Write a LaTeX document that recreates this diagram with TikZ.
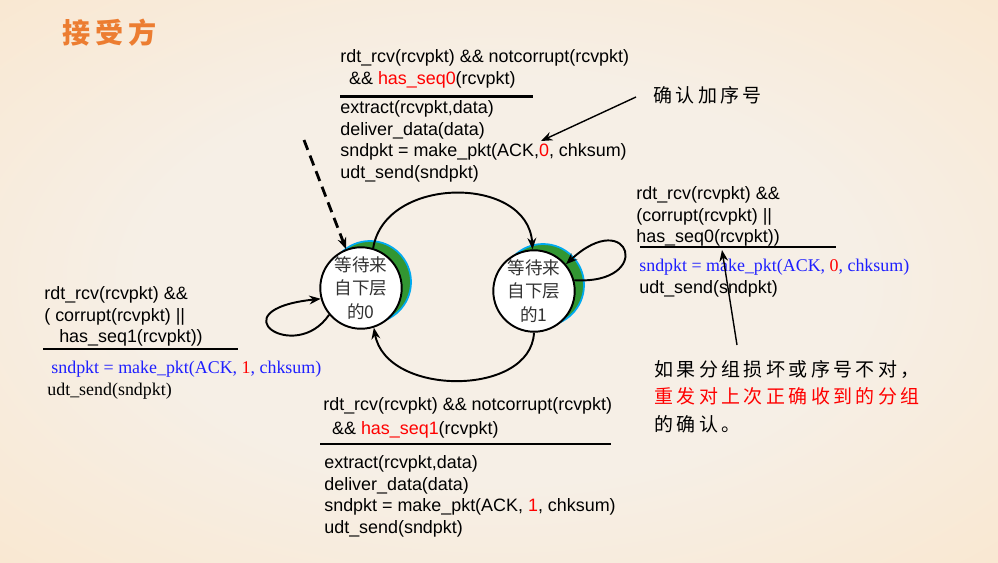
\documentclass[tikz,border=0pt]{standalone}
\usepackage{fontspec}
\usetikzlibrary{arrows.meta}
\newfontfamily\arialf{Liberation Sans}
\newfontfamily\timesf{Liberation Serif}
\newfontfamily\cjk[LetterSpace=18]{Noto Sans CJK SC}
\newfontfamily\cjkplain{Noto Sans CJK SC}
\definecolor{bgin}{RGB}{246,239,230}
\definecolor{bgout}{RGB}{252,226,193}
\definecolor{titleorange}{RGB}{236,125,49}
\definecolor{shadowgreen}{RGB}{50,150,50}
\definecolor{shadowblue}{RGB}{0,170,240}
\definecolor{pktblue}{RGB}{30,30,255}
\pgfdeclareradialshading{slidebg}{\pgfpoint{0bp}{0bp}}{color(0bp)=(bgin); color(18bp)=(bgin); color(50bp)=(bgout); color(72bp)=(bgout)}
\tikzset{
  state/.style={circle, draw, line width=1.1pt, fill=white, minimum size=1.62cm, inner sep=0pt,
    align=center, text=black!80, font=\cjkplain\fontsize{10}{13.2}\selectfont},
  shadowring/.style={fill=shadowgreen, draw=shadowblue, line width=1pt},
  pktcode/.style={anchor=north west, inner sep=0pt, align=left, font=\arialf\fontsize{10.2}{12.35}\selectfont},
  pktserif/.style={pktcode, font=\timesf\fontsize{10.2}{12.35}\selectfont},
  rulebar/.style={line width=1.5pt},
  trans/.style={->, line width=1.1pt},
  initarrow/.style={->, line width=1.6pt, dash pattern=on 6pt off 3.5pt},
  note/.style={->, line width=0.8pt},
  cjknote/.style={inner sep=0pt, align=left, font=\cjk\fontsize{10.8}{15.6}\selectfont}
}
\begin{document}
\begin{tikzpicture}[>={Stealth[length=6.5pt,width=5pt]}, x=0.02cm, y=0.02cm]
    \useasboundingbox (0,0) rectangle (998,-562);
    \shade[shading=slidebg] (0,0) rectangle (998,-562);

    \coordinate (c0) at (361,-288);
    \coordinate (c1) at (534,-291);
    \coordinate (init) at (304,-140);
    \coordinate (ackfrom) at (636,-97);
    \coordinate (ackto) at (541,-141);
    \coordinate (errfrom) at (737,-345);
    \coordinate (errto) at (722,-250);

    \draw [shadowring] ([shift={(9,6)}]c0) circle (41);
    \draw [shadowring] ([shift={(9,6)}]c1) circle (41);
    \node [state] (s0) at (c0) {等待来\\自下层\\的0};
    \node [state] (s1) at (c1) {等待来\\自下层\\的1};

    \draw [initarrow] (init) -- (s0);
    \draw [trans] (s0.73) .. controls (385,-175) and (528,-175) .. (s1.92);
    \draw [trans] (s1.-90) .. controls (531,-397) and (386,-397) .. (s0.-72);
    \draw [trans] (s0.220) .. controls (295,-365) and (215,-310) .. (s0.195);
    \draw [trans] (s1.15) .. controls (655,-285) and (630,-205) .. (s1.40);

    \node [font=\cjk\bfseries\fontsize{16}{16}\selectfont, text=titleorange, anchor=west, inner sep=0pt] (title) at (62,-33) {接受方};

    \node [pktcode] (topcond) at (340,-49) {rdt\_rcv(rcvpkt) \&\& notcorrupt(rcvpkt)\\
      \hspace*{5pt}\&\& \textcolor{red}{has\_seq0}(rcvpkt)};
    \draw [rulebar] (340,-96.5) -- (533,-96.5);
    \node [pktcode] (topact) at (340,-100) {extract(rcvpkt,data)\\ deliver\_data(data)\\
      sndpkt = make\_pkt(ACK,\textcolor{red}{0}, chksum)\\ udt\_send(sndpkt)};

    \node [pktcode] (rightcond) at (636,-186) {rdt\_rcv(rcvpkt) \&\&\\ (corrupt(rcvpkt) ||\\ has\_seq0(rcvpkt))};
    \draw [rulebar] (640,-247) -- (836,-247);
    \node [pktcode] (rightact) at (639,-259) {{\timesf\color{pktblue}sndpkt = make\_pkt(ACK, \textcolor{red}{0}, chksum)}\\ udt\_send(sndpkt)};

    \node [pktcode] (leftcond) at (44,-286) {rdt\_rcv(rcvpkt) \&\&\\ ( corrupt(rcvpkt) ||\\ \hspace*{8.5pt}has\_seq1(rcvpkt))};
    \draw [rulebar] (43,-349) -- (238,-349);
    \node [pktserif] (leftact) at (47,-361) {\hspace*{2.3pt}{\color{pktblue}sndpkt = make\_pkt(ACK, \textcolor{red}{1}, chksum)}\\ udt\_send(sndpkt)};

    \node [pktcode] (botcond) at (323,-397) {rdt\_rcv(rcvpkt) \&\& notcorrupt(rcvpkt)\\[1.4pt]
      \hspace*{5pt}\&\& \textcolor{red}{has\_seq1}(rcvpkt)};
    \draw [rulebar] (320,-444) -- (611,-444);
    \node [pktcode] (botact) at (324,-455) {extract(rcvpkt,data)\\ deliver\_data(data)\\
      sndpkt = make\_pkt(ACK, \textcolor{red}{1}, chksum)\\ udt\_send(sndpkt)};

    \node [cjknote, anchor=west] (ackmark) at (653,-95) {确认加序号};
    \node [cjknote, anchor=north west] (errnote) at (654,-360) {如果分组损坏或序号不对，\\
      \textcolor{red}{重发对上次正确收到的分组}\\ 的确认。};
    \draw [note] (ackfrom) -- (ackto);
    \draw [note] (errfrom) -- (errto);
\end{tikzpicture}
\end{document}
